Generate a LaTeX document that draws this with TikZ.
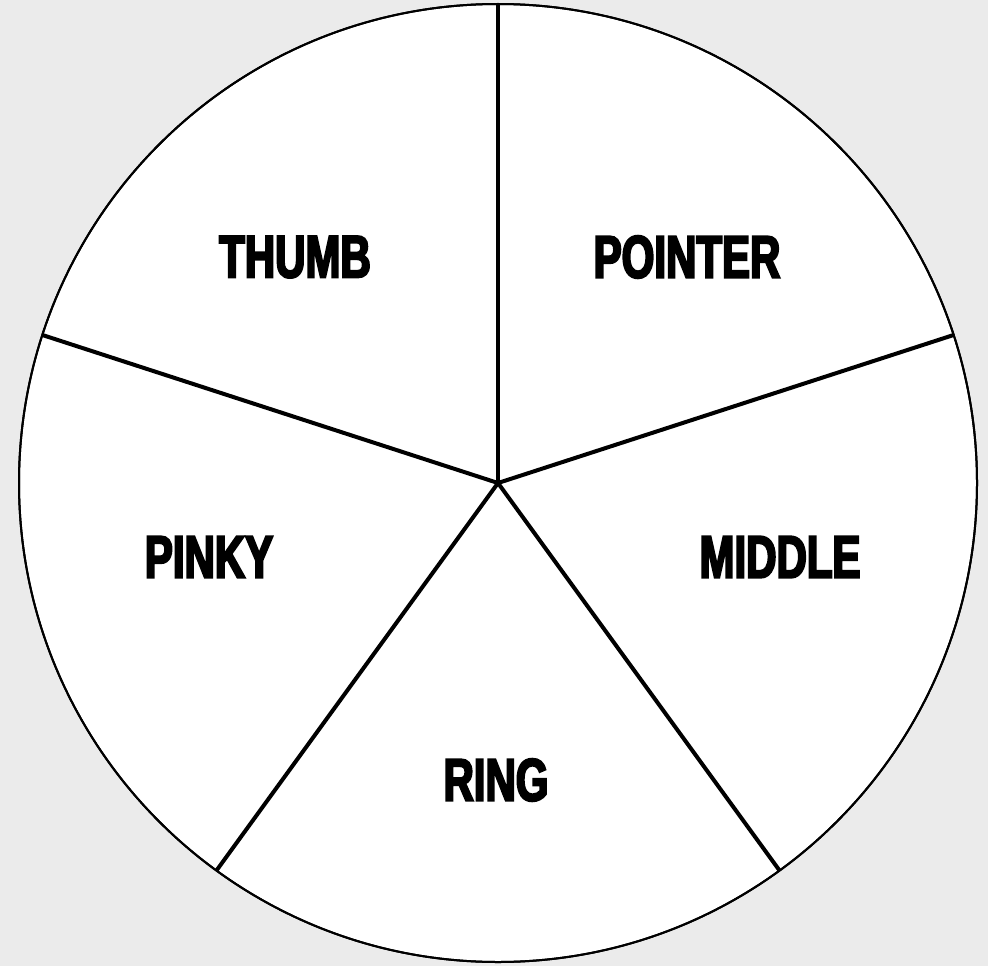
\documentclass[tikz,border=0pt]{standalone}
\usepackage{fontspec}
\newfontfamily\impactish[FakeStretch=0.70,FakeBold=3.5]{Liberation Sans Bold}
\definecolor{bg}{HTML}{EBEBEB}
\tikzset{
  lbl/.style={font=\impactish\fontsize{60}{60}\selectfont, text=black, inner sep=0pt, anchor=center},
  spoke/.style={draw=black, line width=4pt},
  rim/.style={draw=black, line width=2pt, fill=white}
}
\begin{document}
\begin{tikzpicture}[x=1pt,y=-1pt]
\fill[bg] (0,0) rectangle (988,966);
\useasboundingbox (0,0) rectangle (988,966);
\coordinate (c) at (498,483);
\draw[rim] (498,483) circle[radius=479];
\coordinate (top) at (498,4);
\coordinate (rt) at (953.6,335);
\coordinate (br) at (779.5,870.5);
\coordinate (bl) at (216.5,870.5);
\coordinate (lt) at (42.4,335);
\foreach \p in {top,rt,br,bl,lt}{
  \draw[spoke] (c) -- (\p);
}
\draw[draw=black, line width=2pt] (498,483) circle[radius=479];
\node[lbl] (thumb) at (295,257) {THUMB};
\node[lbl] (pointer) at (687,257) {POINTER};
\node[lbl] (pinky) at (209,557) {PINKY};
\node[lbl] (middle) at (780,557) {MIDDLE};
\node[lbl] (ring) at (496,780) {RING};
\end{tikzpicture}
\end{document}
